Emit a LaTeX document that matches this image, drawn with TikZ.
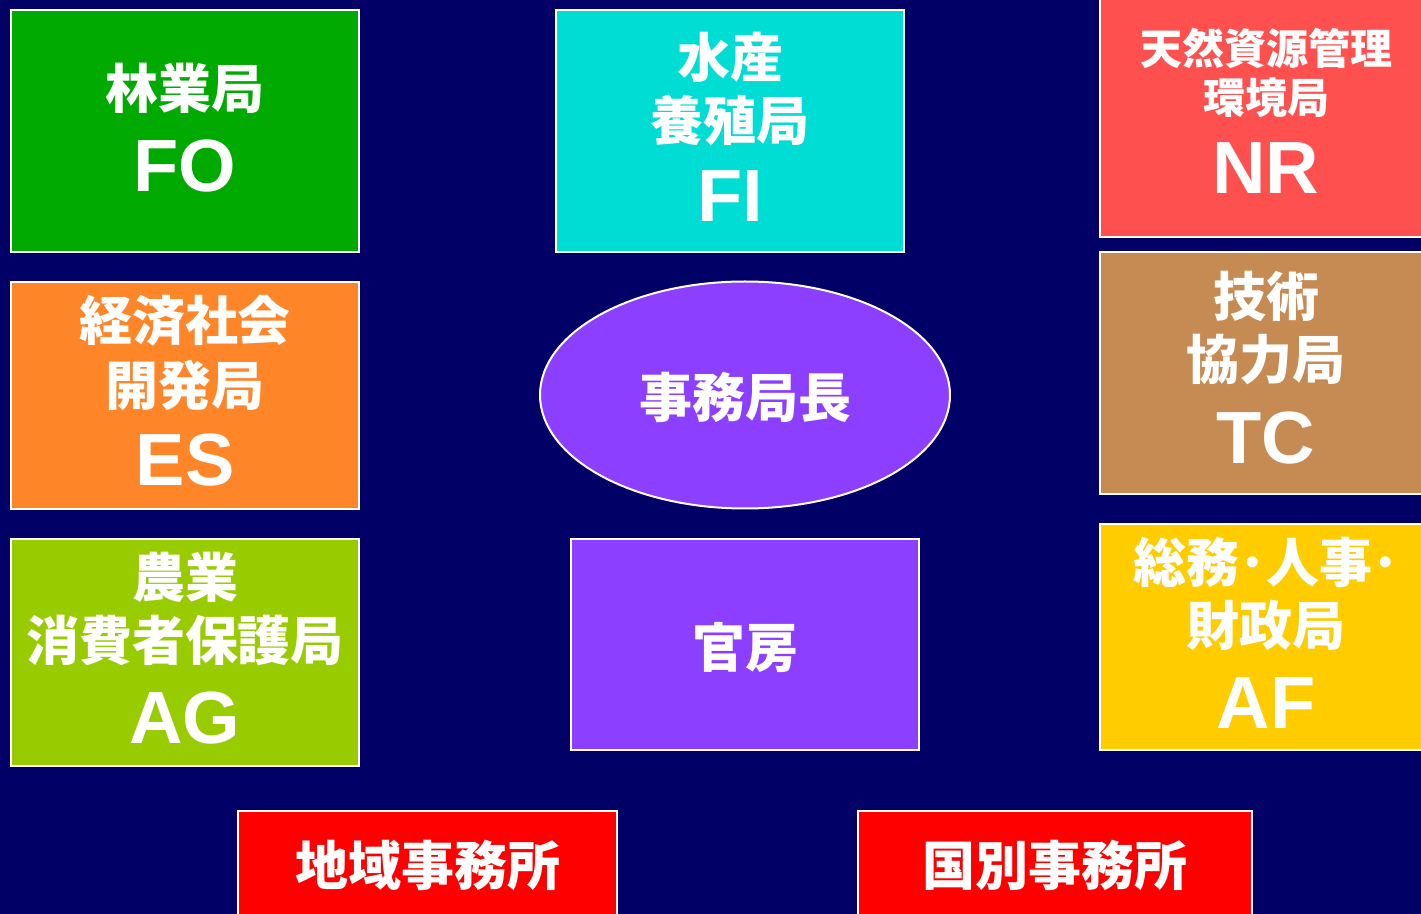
\documentclass[tikz,border=0pt]{standalone}
\usepackage{fontspec}
\setmainfont{Liberation Sans}
\newfontfamily\cjk{Noto Sans CJK JP}
\usetikzlibrary{shapes.geometric}
\definecolor{bgnavy}{HTML}{000066}
\definecolor{cfo}{HTML}{00AA00}
\definecolor{cfi}{HTML}{00DDD5}
\definecolor{cnr}{HTML}{FF5050}
\definecolor{ces}{HTML}{FF8529}
\definecolor{ctc}{HTML}{C68B52}
\definecolor{cag}{HTML}{99CC00}
\definecolor{caf}{HTML}{FFCC00}
\definecolor{cpu}{HTML}{8C3FFF}
\definecolor{cre}{HTML}{FF0000}
\begin{document}
\begin{tikzpicture}[x=0.5pt,y=-0.5pt,
  box/.style={draw=white, line width=1pt, rectangle, inner sep=0pt},
  jp/.style={text=white, inner sep=0pt, font=\cjk\bfseries\fontsize{26.5pt}{30pt}\selectfont},
  jps/.style={text=white, inner sep=0pt, font=\cjk\bfseries\fontsize{21pt}{24pt}\selectfont},
  en/.style={text=white, inner sep=0pt, font=\bfseries\fontsize{37pt}{40pt}\selectfont}]
\useasboundingbox (0,0) rectangle (1421,914);
\clip (0,0) rectangle (1421,914);
\fill[bgnavy] (0,0) rectangle (1421,914);

% boxes
\node[box, fill=cfo, minimum width=174pt, minimum height=121pt] (fo) at (185,131) {};
\node[box, fill=cfi, minimum width=174pt, minimum height=121pt] (fi) at (730,131) {};
\node[box, fill=cnr, minimum width=180pt, minimum height=128.5pt] (nr) at (1280,108.5) {};
\node[box, fill=ces, minimum width=174pt, minimum height=113.5pt] (es) at (185,395.5) {};
\node[box, fill=ctc, minimum width=180pt, minimum height=121pt] (tc) at (1280,373) {};
\node[box, fill=cag, minimum width=174pt, minimum height=113.5pt] (ag) at (185,652.5) {};
\node[box, fill=cpu, minimum width=174pt, minimum height=105.5pt] (kb) at (745,644.5) {};
\node[box, fill=caf, minimum width=180pt, minimum height=113pt] (af) at (1280,637) {};
\node[box, fill=cre, minimum width=189.5pt, minimum height=69.5pt] (rg) at (427.5,880.5) {};
\node[box, fill=cre, minimum width=197pt, minimum height=69.5pt] (cn) at (1055,880.5) {};
\node[box, ellipse, fill=cpu, minimum width=205pt, minimum height=113.5pt] (dg) at (745,395) {};

% texts
\node[jp] (fo1) at (185,88) {林業局};
\node[en] (fo2) at (185,166) {FO};

\node[jp] (fi1) at (730,57) {水産};
\node[jp] (fi2) at (730,120) {養殖局};
\node[en] (fi3) at (730,196) {FI};

\node[jps] (nr1) at (1266,48) {天然資源管理};
\node[jps] (nr2) at (1266,98) {環境局};
\node[en] (nr3) at (1266,168) {NR};

\node[jp] (es1) at (185,321) {経済社会};
\node[jp] (es2) at (185,385) {開発局};
\node[en] (es3) at (185,460) {ES};

\node[jp] (tc1) at (1266,296) {技術};
\node[jp] (tc2) at (1266,360) {協力局};
\node[en] (tc3) at (1266,438) {TC};

\node[jp] (ag1) at (185,577) {農業};
\node[jp] (ag2) at (185,640) {消費者保護局};
\node[en] (ag3) at (185,718) {AG};

\node[jp] (af1) at (1266,562) {総務･人事･};
\node[jp] (af2) at (1266,625) {財政局};
\node[en] (af3) at (1266,703) {AF};

\node[jp] (dgt) at (745,397) {事務局長};
\node[jp] (kbt) at (745,648) {官房};
\node[jp] (rgt) at (427.5,865) {地域事務所};
\node[jp] (cnt) at (1055,865) {国別事務所};
\end{tikzpicture}
\end{document}
